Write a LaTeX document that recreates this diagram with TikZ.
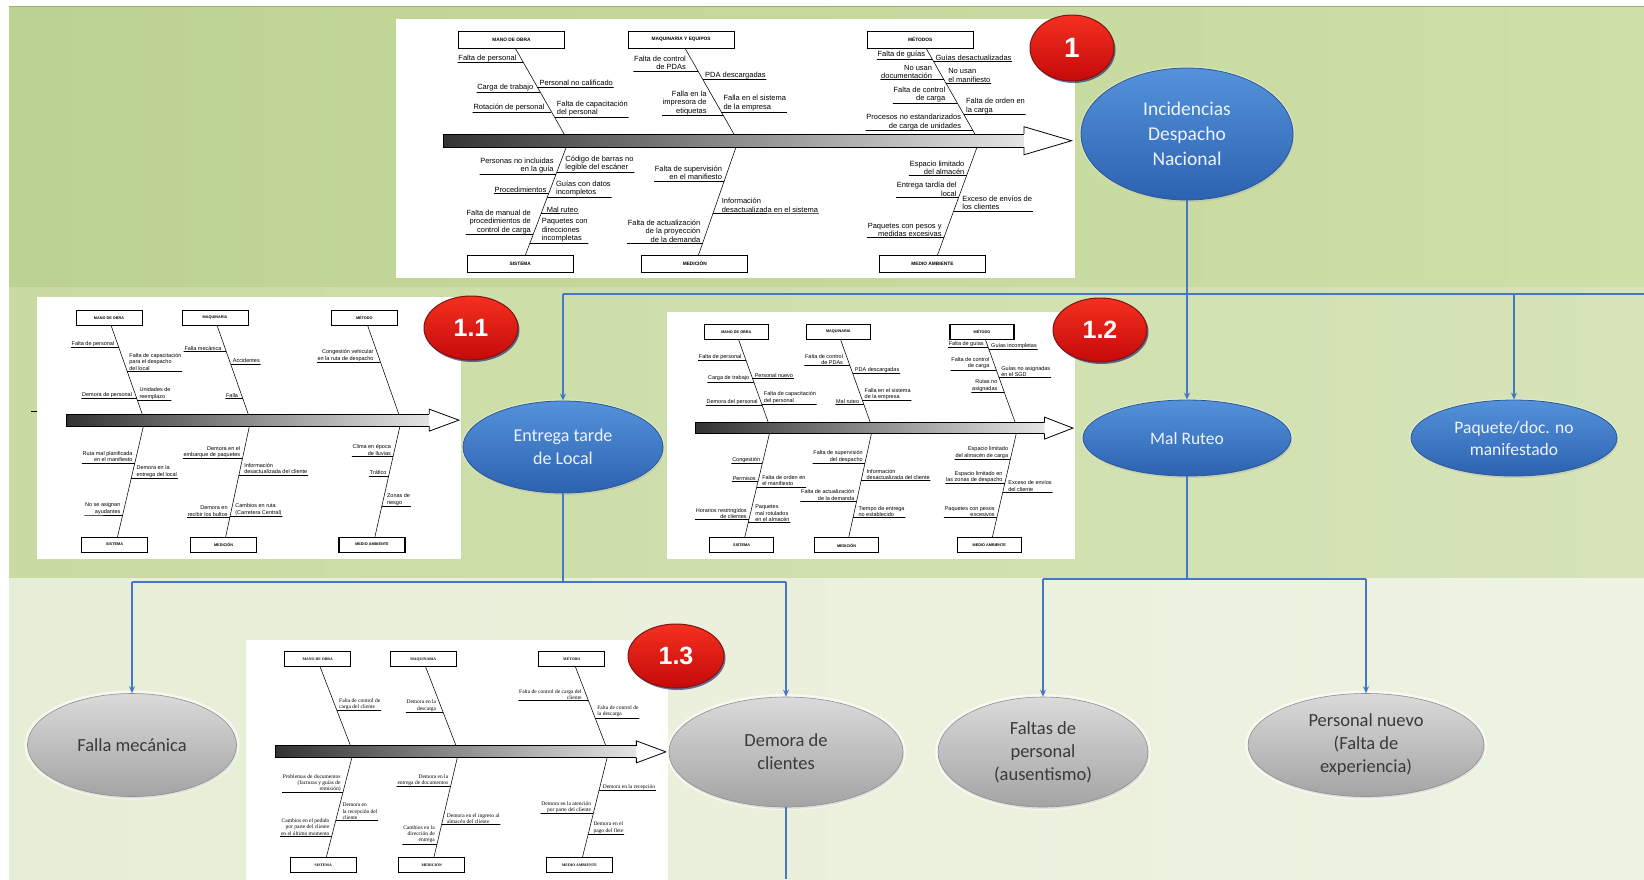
\documentclass[tikz,border=0pt]{standalone}
\usepackage{fontspec}
\setmainfont{Carlito}
\newfontfamily\fbsans{Liberation Sans}
\newfontfamily\fbserif{Liberation Serif}
\usetikzlibrary{shapes.geometric,calc,arrows.meta,shadows}

\definecolor{bandAl}{HTML}{BCD291}
\definecolor{bandAr}{HTML}{CEDFA8}
\definecolor{bandBl}{HTML}{C9DBA2}
\definecolor{bandBr}{HTML}{D6E4B8}
\definecolor{bandCl}{HTML}{E7EED6}
\definecolor{bandCr}{HTML}{EEF3E2}
\definecolor{bandEdge}{HTML}{9CB06E}
\definecolor{blueTop}{HTML}{5592DB}
\definecolor{blueBot}{HTML}{2C62B0}
\definecolor{blueEdge}{HTML}{2A5896}
\definecolor{blueText}{HTML}{EEF3FF}
\definecolor{grayTop}{HTML}{DADADA}
\definecolor{grayBot}{HTML}{A4A4A4}
\definecolor{grayEdge}{HTML}{8E8E8E}
\definecolor{grayText}{HTML}{3A3A3A}
\definecolor{redTop}{HTML}{F4301F}
\definecolor{redBot}{HTML}{C50A0A}
\definecolor{redEdge}{HTML}{7E1414}
\definecolor{connBlue}{HTML}{4677C2}

% horizontal clearance per text line between a label and its slanted bone
\def\fbstepL{4.8pt}
\def\fbstepR{3.2pt}

\tikzset{
  catbox/.style={draw=black, line width=1.1pt, fill=white, inner sep=0pt},
  bone/.style={draw=black, line width=0.55pt},
  cause/.style={inner sep=0.6pt, text=black},
  cside/.style={cside #1},
  cside l/.style={anchor=south east, xshift=-1.5pt, align=right},
  cside r/.style={anchor=south west, xshift=1.5pt, align=left},
  cside l1/.style={cside l, xshift=-1*\fbstepL},
  cside l2/.style={cside l, xshift=-2*\fbstepL},
  cside l3/.style={cside l, xshift=-3*\fbstepL},
  cside r1/.style={cside r, xshift=1*\fbstepR},
  cside r2/.style={cside r, xshift=2*\fbstepR},
  cside r3/.style={cside r, xshift=3*\fbstepR},
  causeline/.style={draw=black, line width=0.45pt},
  blueell/.style={ellipse, inner sep=0pt, draw=blueEdge, line width=0.8pt,
    top color=blueTop, bottom color=blueBot, text=blueText, align=center,
    preaction={draw=white, line width=3pt, opacity=0.35},
    drop shadow={opacity=0.25, shadow xshift=1pt, shadow yshift=-2pt}},
  grayell/.style={ellipse, inner sep=0pt, draw=grayEdge, line width=0.6pt,
    top color=grayTop, bottom color=grayBot, text=grayText, align=center,
    font=\fontsize{18.5}{23}\selectfont,
    preaction={draw=white, line width=6pt, opacity=0.6},
    drop shadow={opacity=0.2, shadow xshift=1pt, shadow yshift=-2pt}},
  badge/.style={ellipse, inner sep=0pt, draw=redEdge, line width=1pt,
    top color=redTop, bottom color=redBot, text=white,
    font=\fbsans\bfseries\fontsize{25}{25}\selectfont,
    drop shadow={opacity=0.55, shadow xshift=1.5pt, shadow yshift=-2pt, fill=blue!35!black}},
  conn/.style={draw=connBlue, line width=1.6pt},
  tip/.style={-{Stealth[length=7pt, width=6pt]}}
}

% Skeleton of an Ishikawa diagram in unit coordinates of the current scope.
% #1 prefix, #2 shaft half height, #3 head half height, #4-#9 category labels
\newcommand\fbskeleton[9]{%
  \coordinate (#1s1) at (0.175,0.11);  \coordinate (#1e1) at (0.25,0.455);
  \coordinate (#1s2) at (0.425,0.11);  \coordinate (#1e2) at (0.50,0.455);
  \coordinate (#1s3) at (0.78,0.11);   \coordinate (#1e3) at (0.855,0.455);
  \coordinate (#1s4) at (0.25,0.50);   \coordinate (#1e4) at (0.19,0.915);
  \coordinate (#1s5) at (0.50,0.50);   \coordinate (#1e5) at (0.445,0.915);
  \coordinate (#1s6) at (0.855,0.50);  \coordinate (#1e6) at (0.797,0.915);
  \foreach \fbK in {1,2,3}{\draw[bone] ($(#1s\fbK)!-0.12!(#1e\fbK)$) -- (#1e\fbK);}
  \foreach \fbK in {4,5,6}{\draw[bone] ($(#1s\fbK)!-0.06!(#1e\fbK)$) -- ($(#1s\fbK)!1.12!(#1e\fbK)$);}
  \shade[left color=black!80, right color=black!10]
    ($(0.07,0.47)+(0pt,#2pt)$) rectangle ($(0.93,0.47)+(0pt,-#2pt)$);
  \draw[line width=0.8pt]
    ($(0.93,0.47)+(0pt,#2pt)$) -- ($(0.07,0.47)+(0pt,#2pt)$)
    -- ($(0.07,0.47)+(0pt,-#2pt)$) -- ($(0.93,0.47)+(0pt,-#2pt)$);
  \filldraw[fill=white, line width=0.8pt]
    ($(0.925,0.47)+(0pt,#2pt)$) -- ($(0.925,0.47)+(0pt,#3pt)$) -- (0.995,0.47)
    -- ($(0.925,0.47)+(0pt,-#3pt)$) -- ($(0.925,0.47)+(0pt,-#2pt)$);
  \node[catbox] (#1k1) at (0.17,0.08) {#4};
  \node[catbox] (#1k2) at (0.42,0.08) {#5};
  \node[catbox] (#1k3) at (0.772,0.08) {#6};
  \node[catbox] (#1k4) at (0.183,0.945) {#7};
  \node[catbox] (#1k5) at (0.44,0.945) {#8};
  \node[catbox] (#1k6) at (0.79,0.945) {#9};
}

% Causes: bone / position along bone / side code / text
\newcommand\fbcauses[2]{%
  \foreach \fbB/\fbT/\fbS/\fbX [count=\fbN] in {#2} {%
    \coordinate (#1c\fbN) at ($(#1s\fbB)!\fbT!(#1e\fbB)$);
    \node[cause, cside/.expanded=\fbS] (#1n\fbN) at (#1c\fbN) {\fbX};
    \draw[causeline] (#1c\fbN) -- (#1n\fbN.south west) -- (#1n\fbN.south east) -- (#1c\fbN);
  }}

\begin{document}
\begin{tikzpicture}[x=1pt,y=-1pt]
\useasboundingbox (0,0) rectangle (1644,879);

% background bands
\fill[white] (0,0) rectangle (1644,879);
\shade[left color=bandAl, right color=bandAr] (9,6) rectangle (1644,287);
\shade[left color=bandBl, right color=bandBr] (9,287) rectangle (1644,578);
\shade[left color=bandCl, right color=bandCr] (9,578) rectangle (1644,879);
\draw[bandEdge, line width=1.5pt] (9,6.5) -- (1644,6.5);
\draw[black, line width=1pt] (31,411) -- (37,411);

% main cause diagram
\begin{scope}[shift={(396pt,-19pt)}, x=679pt, y=-259pt,
  catbox/.append style={minimum width=106pt, minimum height=17pt,
    font=\fbsans\bfseries\fontsize{4.8}{5}\selectfont},
  cause/.append style={font=\fbsans\fontsize{7.5}{8.5}\selectfont}]
  \def\fbstepL{4.8pt}\def\fbstepR{3.2pt}
  \fill[white] (0,0) rectangle (1,1);
  \fbskeleton{T}{6.5}{14}{MANO DE OBRA}{MAQUINARIA Y EQUIPOS}{MÉTODOS}{SISTEMA}{MEDICIÓN}{MEDIO AMBIENTE}
  \fbcauses{T}{
    1/0.17/l1/{Falta de personal},
    1/0.50/l1/{Carga de trabajo},
    1/0.72/l1/{Rotación de personal},
    1/0.44/r/{Personal no calificado},
    1/0.78/r/{Falta de capacitación\\del personal},
    2/0.26/l2/{Falta de control\\de PDAs},
    2/0.76/l3/{Falla en la\\impresora de\\etiquetas},
    2/0.36/r/{PDA descargadas},
    2/0.72/r/{Falla en el sistema\\de la empresa},
    3/0.13/l1/{Falta de guías},
    3/0.36/l2/{No usan\\documentación},
    3/0.62/l2/{Falta de control\\de carga},
    3/0.93/l2/{Procesos no estandarizados\\de carga de unidades},
    3/0.15/r/{Guías desactualizadas},
    3/0.40/r/{No usan\\el manifiesto},
    3/0.75/r/{Falta de orden en\\la carga},
    4/0.24/l/{Personas no incluidas\\en la guía},
    4/0.42/l/{Procedimientos},
    4/0.80/l/{Falta de manual de\\procedimientos de\\control de carga},
    4/0.22/r2/{Código de barras no\\legible del escáner},
    4/0.45/r2/{Guías con datos\\incompletos},
    4/0.60/r1/{Mal ruteo},
    4/0.88/r3/{Paquetes con\\direcciones\\incompletas},
    5/0.30/l/{Falta de supervisión\\en el manifiesto},
    5/0.88/l/{Falta de actualización\\de la proyección\\de la demanda},
    5/0.60/r2/{Información\\desactualizada en el sistema},
    6/0.25/l/{Espacio limitado\\del almacén},
    6/0.45/l/{Entrega tardía del\\local},
    6/0.83/l/{Paquetes con pesos y\\medidas excesivas},
    6/0.58/r2/{Exceso de envíos de\\los clientes}}
\end{scope}

% cause diagram 1.1
\begin{scope}[shift={(37pt,-297pt)}, x=424pt, y=-262pt,
  catbox/.append style={minimum width=66pt, minimum height=15pt,
    font=\fbsans\bfseries\fontsize{3.8}{4}\selectfont},
  cause/.append style={font=\fbsans\fontsize{5.5}{6.5}\selectfont}]
  \def\fbstepL{2.3pt}\def\fbstepR{1.5pt}
  \fill[white] (0,0) rectangle (1,1);
  \fbskeleton{P}{6}{11}{MANO DE OBRA}{MAQUINARIA}{MÉTODO}{SISTEMA}{MEDICIÓN}{MEDIO AMBIENTE}
  \fbcauses{P}{
    1/0.24/l1/{Falta de personal},
    1/0.80/l1/{Demora de personal},
    1/0.50/r/{Falta de capacitación\\para el despacho\\del local},
    1/0.82/r/{Unidades de\\reemplazo},
    2/0.28/l1/{Falla mecánica},
    2/0.80/l1/{Falla},
    2/0.42/r/{Accidentes},
    3/0.40/l2/{Congestión vehicular\\en la ruta de despacho},
    4/0.32/l/{Ruta mal planificada\\en el manifiesto},
    4/0.80/l/{No se asignan\\ayudantes},
    4/0.46/r2/{Demora en la\\entrega del local},
    5/0.28/l/{Demora en el\\embarque de paquetes},
    5/0.82/l/{Demora en\\recibir los bultos},
    5/0.43/r2/{Información\\desactualizada del cliente},
    5/0.81/r2/{Cambios en ruta\\(Carretera Central)},
    6/0.26/l/{Clima en época\\de lluvias},
    6/0.44/l/{Tráfico},
    6/0.72/r2/{Zonas de\\riesgo}}
\end{scope}

% cause diagram 1.2
\begin{scope}[shift={(667pt,-312pt)}, x=408pt, y=-247pt,
  catbox/.append style={minimum width=64pt, minimum height=15pt,
    font=\fbsans\bfseries\fontsize{3.8}{4}\selectfont},
  cause/.append style={font=\fbsans\fontsize{5.5}{6.5}\selectfont}]
  \def\fbstepL{2.3pt}\def\fbstepR{1.6pt}
  \fill[white] (0,0) rectangle (1,1);
  \fbskeleton{Q}{5.5}{11}{MANO DE OBRA}{MAQUINARIA}{MÉTODO}{SISTEMA}{MEDICIÓN}{MEDIO AMBIENTE}
  \fbcauses{Q}{
    1/0.25/l1/{Falta de personal},
    1/0.50/l1/{Carga de trabajo},
    1/0.78/l1/{Demora del personal},
    1/0.46/r/{Personal nuevo},
    1/0.76/r/{Falta de capacitación\\del personal},
    2/0.31/l2/{Falta de control\\de PDAs},
    2/0.76/l1/{Mal ruteo},
    2/0.40/r/{PDA descargadas},
    2/0.72/r/{Falla en el sistema\\de la empresa},
    3/0.10/l1/{Falta de guías},
    3/0.36/l2/{Falta de control\\de carga},
    3/0.62/l2/{Rutas no\\asignadas},
    3/0.12/r/{Guías incompletas},
    3/0.45/r/{Guías no asignadas\\en el SGD},
    4/0.27/l/{Congestión},
    4/0.45/l/{Permisos},
    4/0.82/l/{Horarios restringidos\\de clientes},
    4/0.50/r2/{Falta de orden en\\el manifiesto},
    4/0.85/r3/{Paquetes\\mal rotulados\\en el almacén},
    5/0.27/l/{Falta de supervisión\\del despacho},
    5/0.64/l/{Falta de actualización\\de la demanda},
    5/0.44/r2/{Información\\desactualizada del cliente},
    5/0.80/r2/{Tiempo de entrega\\no establecido},
    6/0.23/l/{Espacio limitado\\del almacén de carga},
    6/0.47/l/{Espacio limitado en\\las zonas de despacho},
    6/0.80/l/{Paquetes con pesos\\excesivos},
    6/0.55/r2/{Exceso de envíos\\del cliente}}
\end{scope}

% cause diagram 1.3
\begin{scope}[shift={(246pt,-640pt)}, x=422pt, y=-238pt,
  catbox/.append style={minimum width=66pt, minimum height=15pt,
    font=\fbserif\bfseries\fontsize{3.8}{4}\selectfont},
  cause/.append style={font=\fbserif\fontsize{5.5}{6.3}\selectfont}]
  \def\fbstepL{2.3pt}\def\fbstepR{1.5pt}
  \fill[white] (0,0) rectangle (1,1.01);
  \fbskeleton{R}{6}{11}{MANO DE OBRA}{MAQUINARIA}{MÉTODO}{SISTEMA}{MEDICIÓN}{MEDIO AMBIENTE}
  \fbcauses{R}{
    1/0.54/r/{Falta de control de\\carga del cliente},
    2/0.56/l2/{Demora en la\\descarga},
    3/0.42/l2/{Falta de control de carga del\\cliente},
    3/0.63/r/{Falta de control de\\la descarga},
    4/0.34/l/{Problemas de documentos\\(facturas y guías de\\remisión)},
    4/0.78/l/{Cambios en el pedido\\por parte del cliente\\en el último momento},
    4/0.62/r3/{Demora en\\la recepción del\\cliente},
    5/0.28/l/{Demora en la\\entrega de documentos},
    5/0.86/l/{Cambios en la\\dirección de\\entrega},
    5/0.66/r2/{Demora en el ingreso al\\almacén del cliente},
    6/0.55/l/{Demora en la atención\\por parte del cliente},
    6/0.32/r1/{Demora en la recepción},
    6/0.76/r2/{Demora en el\\pago del flete}}
\end{scope}

% numbered badges
\node[badge, minimum width=84pt, minimum height=66pt,
  font=\fbsans\bfseries\fontsize{28}{28}\selectfont] (b1) at (1072,48) {1};
\node[badge, minimum width=94pt, minimum height=64pt] (b11) at (471,328) {1.1};
\node[badge, minimum width=94pt, minimum height=64pt] (b12) at (1100,330) {1.2};
\node[badge, minimum width=96pt, minimum height=64pt] (b13) at (676,656) {1.3};

% problem nodes
\node[blueell, minimum width=212pt, minimum height=132pt,
  font=\fontsize{19.5}{25}\selectfont] (inc) at (1187,134) {Incidencias\\Despacho\\Nacional};
\node[blueell, minimum width=200pt, minimum height=92pt,
  font=\fontsize{18}{23}\selectfont] (ent) at (563,447) {Entrega tarde\\de Local};
\node[blueell, minimum width=208pt, minimum height=76pt,
  font=\fontsize{17.5}{22}\selectfont] (mal) at (1187,438) {Mal Ruteo};
\node[blueell, minimum width=206pt, minimum height=76pt,
  font=\fontsize{17.5}{22}\selectfont] (paq) at (1514,438) {Paquete/doc. no\\manifestado};

\node[grayell, minimum width=209pt, minimum height=103pt] (fal) at (132,745) {Falla mecánica};
\node[grayell, minimum width=234pt, minimum height=110pt] (dem) at (786,752) {Demora de\\clientes};
\node[grayell, minimum width=210pt, minimum height=110pt] (fpe) at (1043,752) {Faltas de\\personal\\(ausentismo)};
\node[grayell, minimum width=236pt, minimum height=103pt] (pnu) at (1366,745) {Personal nuevo\\(Falta de\\experiencia)};

% connectors
\coordinate (j1) at (1187,294);
\coordinate (edgeR) at (1644,294);
\coordinate (j2) at (563,582);
\coordinate (j3) at (1187,579);
\coordinate (edgeB) at (786,879);

\draw[conn] (inc.south) -- (j1);
\draw[conn] (ent.north |- j1) -- (edgeR);
\draw[conn, tip] (ent.north |- j1) -- (ent.north);
\draw[conn, tip] (j1) -- (mal.north);
\draw[conn, tip] (paq.north |- j1) -- (paq.north);

\draw[conn] (ent.south) -- (j2);
\draw[conn] (fal.north |- j2) -- (dem.north |- j2);
\draw[conn, tip] (fal.north |- j2) -- (fal.north);
\draw[conn, tip] (dem.north |- j2) -- (dem.north);
\draw[conn] (dem.south) -- (edgeB);

\draw[conn] (mal.south) -- (j3);
\draw[conn] (fpe.north |- j3) -- (pnu.north |- j3);
\draw[conn, tip] (fpe.north |- j3) -- (fpe.north);
\draw[conn, tip] (pnu.north |- j3) -- (pnu.north);
\end{tikzpicture}
\end{document}
